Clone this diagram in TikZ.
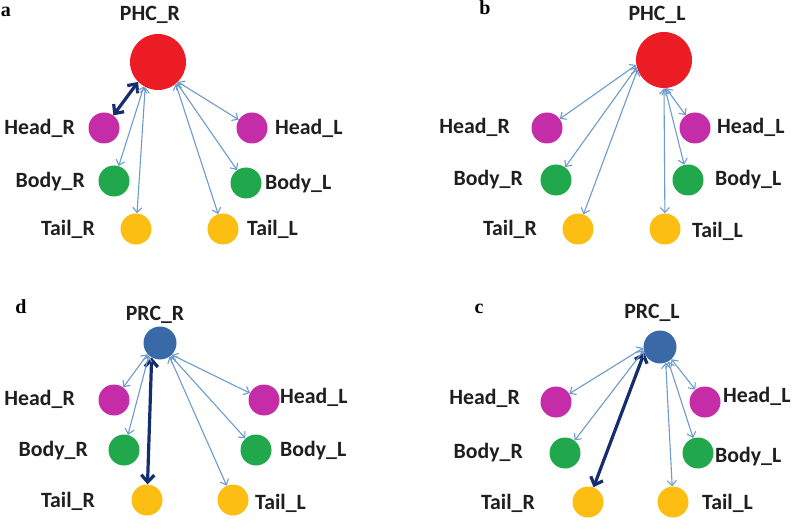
\documentclass[tikz,border=0pt]{standalone}
\usepackage{fontspec}
\setmainfont{Carlito}
\newfontfamily\letterfont{Liberation Serif}
\usetikzlibrary{arrows.meta}
\definecolor{cred}{RGB}{236,28,36}
\definecolor{cmag}{RGB}{196,44,168}
\definecolor{cgrn}{RGB}{34,168,76}
\definecolor{cyel}{RGB}{253,190,20}
\definecolor{cblu}{RGB}{58,105,168}
\definecolor{cweak}{RGB}{110,155,205}
\definecolor{cstrong}{RGB}{22,46,110}
\begin{document}
\begin{tikzpicture}[x=1pt,y=-1pt,
  dot/.style={circle,inner sep=0pt,minimum size=31pt},
  bigdot/.style={circle,inner sep=0pt,minimum size=56pt,fill=cred},
  hubdot/.style={circle,inner sep=0pt,minimum size=33pt,fill=cblu},
  headdot/.style={dot,fill=cmag},
  bodydot/.style={dot,fill=cgrn},
  taildot/.style={dot,fill=cyel},
  lab/.style={font=\fontsize{21.8}{22}\selectfont\bfseries,inner sep=0pt,text=black!88},
  llab/.style={lab,anchor=base east},
  rlab/.style={lab,anchor=base west},
  tlab/.style={lab,anchor=base},
  plab/.style={font=\letterfont\fontsize{20}{20}\selectfont\bfseries,inner sep=0pt,anchor=base},
  weak/.style={cweak,line width=1.1pt,{Straight Barb[length=5pt,width=9pt]}-{Straight Barb[length=5pt,width=9pt]}},
  strong/.style={cstrong,line width=3.2pt,{Straight Barb[length=7pt,width=13pt]}-{Straight Barb[length=7pt,width=13pt]}}]
\useasboundingbox[fill=white] (0,0) rectangle (800,529);

% ---------- panel a ----------
\node[plab] (la) at (6,17) {a};
\node[tlab] (aPt) at (150,21) {PHC\_R};
\node[bigdot] (aP) at (158,62) {};
\node[headdot] (aHR) at (104,128) {};
\node[headdot] (aHL) at (252,128) {};
\node[bodydot] (aBR) at (114,181) {};
\node[bodydot] (aBL) at (246,183) {};
\node[taildot] (aTR) at (136,229) {};
\node[taildot] (aTL) at (223,229) {};
\node[llab] (aHRt) at (75,135) {Head\_R};
\node[rlab] (aHLt) at (275,135) {Head\_L};
\node[llab] (aBRt) at (85,188) {Body\_R};
\node[rlab] (aBLt) at (265,190) {Body\_L};
\node[llab] (aTRt) at (95,236) {Tail\_R};
\node[rlab] (aTLt) at (247,236) {Tail\_L};
\draw[strong] (aP.225) -- (aHR);
\draw[weak] (aP.240) -- (aBR);
\draw[weak] (aP.243) -- (aTR);
\draw[weak] (aP.-45) -- (aHL);
\draw[weak] (aP.-48) -- (aBL);
\draw[weak] (aP.-51) -- (aTL);

% ---------- panel b ----------
\node[plab] (lb) at (485,15) {b};
\node[tlab] (bPt) at (657,21) {PHC\_L};
\node[bigdot] (bP) at (664,60) {};
\node[headdot] (bHR) at (547,128) {};
\node[headdot] (bHL) at (695,128) {};
\node[bodydot] (bBR) at (556,180) {};
\node[bodydot] (bBL) at (688,180) {};
\node[taildot] (bTR) at (578,229) {};
\node[taildot] (bTL) at (665,229) {};
\node[llab] (bHRt) at (510,134) {Head\_R};
\node[rlab] (bHLt) at (717,134) {Head\_L};
\node[llab] (bBRt) at (523,186) {Body\_R};
\node[rlab] (bBLt) at (715,186) {Body\_L};
\node[llab] (bTRt) at (537,236) {Tail\_R};
\node[rlab] (bTLt) at (692,238) {Tail\_L};
\draw[weak] (bP.190) -- (bHR);
\draw[weak] (bP.195) -- (bBR);
\draw[weak] (bP.200) -- (bTR);
\draw[weak] (bP.-86) -- (bHL);
\draw[weak] (bP.-88) -- (bBL);
\draw[weak] (bP.-90) -- (bTL);

% ---------- panel d ----------
\node[plab] (ld) at (21,313) {d};
\node[tlab] (dPt) at (155,320) {PRC\_R};
\node[hubdot] (dP) at (160,343) {};
\node[headdot] (dHR) at (114,400) {};
\node[headdot] (dHL) at (264,400) {};
\node[bodydot] (dBR) at (124,450) {};
\node[bodydot] (dBL) at (256,450) {};
\node[taildot] (dTR) at (147,500) {};
\node[taildot] (dTL) at (233,500) {};
\node[llab] (dHRt) at (75,405) {Head\_R};
\node[rlab] (dHLt) at (280,403) {Head\_L};
\node[llab] (dBRt) at (88,456) {Body\_R};
\node[rlab] (dBLt) at (280,456) {Body\_L};
\node[llab] (dTRt) at (95,507) {Tail\_R};
\node[rlab] (dTLt) at (255,509) {Tail\_L};
\draw[strong] (dP.240) -- (dTR);
\draw[weak] (dP.222) -- (dHR);
\draw[weak] (dP.228) -- (dBR);
\draw[weak] (dP.-45) -- (dHL);
\draw[weak] (dP.-50) -- (dBL);
\draw[weak] (dP.-55) -- (dTL);

% ---------- panel c ----------
\node[plab] (lc) at (479,313) {c};
\node[tlab] (cPt) at (652,318) {PRC\_L};
\node[hubdot] (cP) at (660,347) {};
\node[headdot] (cHR) at (556,402) {};
\node[headdot] (cHL) at (705,402) {};
\node[bodydot] (cBR) at (565,453) {};
\node[bodydot] (cBL) at (698,453) {};
\node[taildot] (cTR) at (588,502) {};
\node[taildot] (cTL) at (673,502) {};
\node[llab] (cHRt) at (520,404) {Head\_R};
\node[rlab] (cHLt) at (723,402) {Head\_L};
\node[llab] (cBRt) at (523,458) {Body\_R};
\node[rlab] (cBLt) at (715,462) {Body\_L};
\node[llab] (cTRt) at (535,509) {Tail\_R};
\node[rlab] (cTLt) at (702,509) {Tail\_L};
\draw[strong] (cP.200) -- (cTR);
\draw[weak] (cP.183) -- (cHR);
\draw[weak] (cP.192) -- (cBR);
\draw[weak] (cP.-47) -- (cHL);
\draw[weak] (cP.-60) -- (cBL);
\draw[weak] (cP.-70) -- (cTL);
\end{tikzpicture}
\end{document}
